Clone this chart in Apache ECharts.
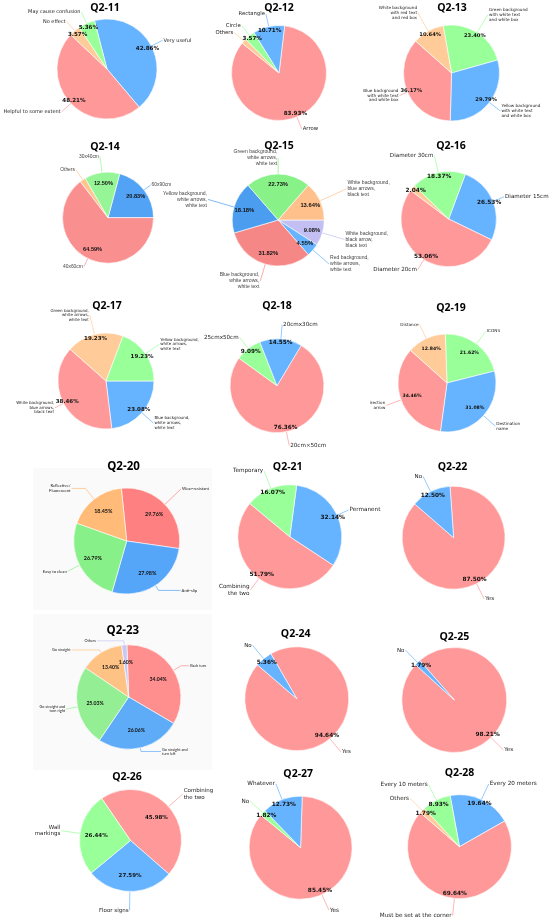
<!DOCTYPE html>
<html>
<head>
<meta charset="utf-8">
<script src="https://cdn.jsdelivr.net/npm/echarts@6/dist/echarts.min.js"></script>
<style>
html, body { margin: 0; padding: 0; background: #fff; }
#main { width: 550px; height: 919px; }
</style>
</head>
<body>
<div id="main"></div>
<script>
// 每个问题的类别和百分比
var q11Names = ['Very useful', 'Helpful to some extent', 'No effect', 'May cause confusion'];
var q11Values = [42.86, 48.21, 3.57, 5.36];
var q12Names = ['Arrow', 'Others', 'Circle', 'Rectangle'];
var q12Values = [83.93, 1.79, 3.57, 10.71];
var q13Names = ['Green background\nwith white text\nand white box', 'Yellow background\nwith white text\nand white box',
    'Blue background\nwith white text\nand white box', 'White background\nwith red text\nand red box'];
var q13Values = [23.40, 29.79, 36.17, 10.64];
var q14Names = ['60x90cm', '40x60cm', 'Others', '30x40cm'];
var q14Values = [20.83, 64.59, 2.08, 12.50];
var q15Names = ['White background,\nblack arrow,\nblack text', 'Red background,\nwhite arrows,\nwhite text',
    'Blue background,\nwhite arrows,\nwhite text', 'Yellow background,\nwhite arrows,\nwhite text',
    'Green background,\nwhite arrows,\nwhite text', 'White background,\nblue arrows,\nblack text'];
var q15Values = [9.08, 4.55, 31.82, 18.18, 22.73, 13.64];
var q16Names = ['Diameter 15cm', 'Diameter 20cm', 'Others', 'Diameter 30cm'];
var q16Values = [26.53, 53.06, 2.04, 18.37];
var q17Names = ['Blue background,\nwhite arrows,\nwhite text', 'White background,\nblue arrows,\nblack text',
    'Green background,\nwhite arrows,\nwhite text', 'Yellow background,\nwhite arrows,\nwhite text'];
var q17Values = [23.08, 38.46, 19.23, 19.23];
var q18Names = ['20cm×50cm', '25cmx50cm', '20cmx30cm'];
var q18Values = [76.36, 9.09, 14.55];
var q19Names = ['ICONS', 'Destination\nname', 'irection\narrow', 'Distance'];
var q19Values = [21.62, 31.08, 34.46, 12.84];
var q20Names = ['Wear-resistant', 'Anti-slip', 'Easy to clean', 'Reflective/\nFluorescent'];
var q20Values = [29.76, 27.98, 26.79, 18.45];
var q21Names = ['Permanent', 'Combining\nthe two', 'Temporary'];
var q21Values = [32.14, 51.79, 16.07];
var q22Names = ['Yes', 'No'];
var q22Values = [87.50, 12.50];
var q23Names = ['Back turn', 'Go straight and\nturn left', 'Go straight and\nturn right', 'Go straight', 'Others'];
var q23Values = [34.04, 26.06, 25.03, 13.40, 1.60];
var q24Names = ['Yes', 'No'];
var q24Values = [94.64, 5.36];
var q25Names = ['Yes', 'No'];
var q25Values = [98.21, 1.79];
var q26Names = ['Combining\nthe two', 'Floor signs', 'Wall\nmarkings'];
var q26Values = [45.98, 27.59, 26.44];
var q27Names = ['Yes', 'No', 'Whatever'];
var q27Values = [85.45, 1.82, 12.73];
var q28Names = ['Every 20 meters', 'Must be set at the corner', 'Others', 'Every 10 meters'];
var q28Values = [19.64, 69.64, 1.79, 8.93];

// 颜色
var RED = '#ff9999', BLUE = '#66b3ff', GREEN = '#99ff99', ORANGE = '#ffcc99', LAV = '#c2c2f0';

// 每个饼图的位置和样式 (cx, cy, r 像素; start 起始角度; ld / lds 标签距离; l2s 水平引线; pd 百分比距离)
var charts = [
    {t: 'Q2-11', n: q11Names, v: q11Values, cx: 107, cy: 69, r: 50, start: 104.5, ld: 1.25, pd: 0.85, tx: 105, ty: 8,
        colors: [BLUE, RED, ORANGE, GREEN], ff: 'DejaVu Sans', fs: 5, pfs: 5.6},
    {t: 'Q2-12', n: q12Names, v: q12Values, cx: 279, cy: 73, r: 47.5, start: 83.2, ld: 1.27, pd: 0.85, tx: 279, ty: 8,
        colors: [RED, ORANGE, GREEN, BLUE], ff: 'DejaVu Sans', fs: 5.3, pfs: 5.6},
    {t: 'Q2-13', n: q13Names, v: q13Values, cx: 451.5, cy: 73, r: 48, start: 100, lds: [1.43, 1.29, 1.18, 1.43], pd: 0.85, tx: 452, ty: 8.5,
        colors: [GREEN, BLUE, RED, ORANGE], ff: 'DejaVu Sans', fs: 4.2, pfs: 5.2},
    {t: 'Q2-14', n: q14Names, v: q14Values, cx: 108, cy: 217.7, r: 45.5, start: 75, lds: [1.18, 1.2, 1.27, 1.36], pd: 0.7, tx: 105, ty: 147,
        colors: ['#52a3f5', '#fa8f8f', '#ffc58f', '#96f596'], ff: 'Liberation Sans', fs: 4.9, pfs: 5.6, lc: '#444', pff: 'Liberation Sans'},
    {t: 'Q2-15', n: q15Names, v: q15Values, cx: 278.2, cy: 220, r: 46, start: 0, lds: [1.5, 1.46, 1.38, 1.59, 1.35, 1.63], pd: 0.7, tx: 279, ty: 146.5,
        colors: ['#c3bff2', '#66b3ff', '#f58787', '#4b9df0', '#88f288', '#ffc08c'], ff: 'Liberation Sans', fs: 5.1, pfs: 5.8, lc: '#444', pff: 'Liberation Sans'},
    {t: 'Q2-16', n: q16Names, v: q16Values, cx: 448.7, cy: 219, r: 47.7, start: 69.6, lds: [1.25, 1.24, 1.31, 1.37], pd: 0.85, tx: 451, ty: 146,
        colors: [BLUE, RED, ORANGE, GREEN], ff: 'DejaVu Sans', fs: 5.6, pfs: 5.8},
    {t: 'Q2-17', n: q17Names, v: q17Values, cx: 106, cy: 381, r: 48, start: 0, lds: [1.32, 1.2, 1.41, 1.35], pd: 0.85, tx: 107, ty: 306,
        colors: [BLUE, RED, ORANGE, GREEN], ff: 'DejaVu Sans', fs: 4, pfs: 5.5},
    {t: 'Q2-18', n: q18Names, v: q18Values, cx: 277, cy: 385.7, r: 47, start: 59, ld: 1.3, pd: 0.85, tx: 277, ty: 306,
        colors: [RED, GREEN, BLUE], ff: 'DejaVu Sans', fs: 5.6, pfs: 5.7},
    {t: 'Q2-19', n: q19Names, v: q19Values, cx: 447, cy: 383, r: 49, start: 92, ld: 1.32, pd: 0.7, tx: 451, ty: 308,
        colors: [GREEN, BLUE, RED, ORANGE], ff: 'DejaVu Sans', fs: 4.2, pfs: 4.6},
    {t: 'Q2-20', n: q20Names, v: q20Values, cx: 126.7, cy: 541, r: 53, start: 95.8, lds: [1.42, 1.11, 1.25, 1.26], l2s: [0, 22, 0, 14], pd: 0.66, tx: 123.5, ty: 466.7,
        colors: ['#ff8080', '#55a5f8', '#88f088', '#ffbb77'], ff: 'Lato', fs: 4.2, pfs: 5.4, pff: 'Lato', tfs: 11.5},
    {t: 'Q2-21', n: q21Names, v: q21Values, cx: 289.8, cy: 536.8, r: 52, start: 82.4, lds: [1.24, 1.27, 1.36], pd: 0.85, tx: 287.7, ty: 467,
        colors: [BLUE, RED, GREEN], ff: 'DejaVu Sans', fs: 5.7, pfs: 5.9},
    {t: 'Q2-22', n: q22Names, v: q22Values, cx: 453.6, cy: 537.7, r: 51.5, start: 94, ld: 1.33, pd: 0.85, tx: 452.5, ty: 467,
        colors: [RED, BLUE], ff: 'DejaVu Sans', fs: 5.5, pfs: 5.8},
    {t: 'Q2-23', n: q23Names, v: q23Values, cx: 128.7, cy: 697, r: 52.2, start: 92, lds: [1.17, 1.07, 1.22, 1.06, 1.08], l2s: [8, 20, 0, 28, 27], pd: 0.6, tx: 122.8, ty: 630.7,
        colors: ['#ff8f8f', '#5eacf8', '#94ee94', '#ffc285', '#c8c8f5'], ff: 'Lato', fs: 3.8, pfs: 5.1, pff: 'Lato', tfs: 11.5},
    {t: 'Q2-24', n: q24Names, v: q24Values, cx: 296.8, cy: 698.7, r: 52, start: 120, ld: 1.33, pd: 0.85, tx: 295.7, ty: 634,
        colors: [RED, BLUE], ff: 'DejaVu Sans', fs: 5.5, pfs: 5.8},
    {t: 'Q2-25', n: q25Names, v: q25Values, cx: 454.3, cy: 700, r: 52.5, start: 131.2, ld: 1.33, pd: 0.85, tx: 454.3, ty: 637.3,
        colors: [RED, BLUE], ff: 'DejaVu Sans', fs: 5.5, pfs: 5.8},
    {t: 'Q2-26', n: q26Names, v: q26Values, cx: 130.5, cy: 840.5, r: 51, start: 124.4, ld: 1.37, pd: 0.62, tx: 127, ty: 777.5,
        colors: [RED, BLUE, GREEN], ff: 'DejaVu Sans', fs: 5.5, pfs: 5.5},
    {t: 'Q2-27', n: q27Names, v: q27Values, cx: 300.6, cy: 847.7, r: 51.5, start: 88.2, ld: 1.33, pd: 0.85, tx: 298.2, ty: 774.3,
        colors: [RED, GREEN, BLUE], ff: 'DejaVu Sans', fs: 5.7, pfs: 5.8},
    {t: 'Q2-28', n: q28Names, v: q28Values, cx: 459.5, cy: 846.7, r: 52, start: 100.4, ld: 1.33, pd: 0.85, tx: 459.5, ty: 773.3,
        colors: [BLUE, RED, ORANGE, GREEN], ff: 'DejaVu Sans', fs: 5.7, pfs: 5.8}
];

var series = [];
var graphics = [
    // Q2-20 / Q2-23 的浅灰底
    {type: 'rect', z: -10, shape: {x: 33, y: 468, width: 179, height: 142}, style: {fill: '#fafafa'}},
    {type: 'rect', z: -10, shape: {x: 33, y: 614, width: 179, height: 156}, style: {fill: '#fafafa'}}
];

charts.forEach(function (c) {
    var data = [], pctData = [];
    for (var i = 0; i < c.n.length; i++) {
        var ld = c.lds ? c.lds[i] : c.ld;
        data.push({
            name: c.n[i], value: c.v[i],
            itemStyle: {color: c.colors[i]},
            labelLine: {length: (ld - 1) * c.r, length2: c.l2s ? c.l2s[i] : 0}
        });
        pctData.push({name: c.n[i], value: c.v[i], itemStyle: {color: 'rgba(0,0,0,0)'}});
    }
    var tfs = c.tfs || 10.5;
    graphics.push({
        type: 'text', x: c.tx, y: c.ty, z: 10,
        style: {
            text: c.t, fill: '#000',
            font: 'bold ' + tfs + 'px "Open Sans"',
            align: 'center', verticalAlign: 'middle',
            textAlign: 'center', textVerticalAlign: 'middle'
        }
    });
    // 饼块 + 外部名称标签
    series.push({
        type: 'pie',
        center: [c.cx, c.cy],
        radius: c.r,
        startAngle: c.start,
        clockwise: true,
        avoidLabelOverlap: false,
        silent: true,
        itemStyle: {borderColor: '#fff', borderWidth: 0.6},
        label: {
            show: true,
            position: 'outside',
            formatter: '{b}',
            fontFamily: c.ff,
            fontSize: c.fs,
            lineHeight: c.fs * 1.15,
            color: c.lc || '#222',
            distanceToLabelLine: 1
        },
        labelLine: {show: true, smooth: false, lineStyle: {width: 0.7}},
        data: data
    });
    // 透明的一层, 只放百分比
    series.push({
        type: 'pie',
        center: [c.cx, c.cy],
        radius: [(2 * c.pd - 1) * c.r, c.r],
        startAngle: c.start,
        clockwise: true,
        avoidLabelOverlap: false,
        silent: true,
        itemStyle: {borderWidth: 0},
        label: {
            show: true,
            position: 'inside',
            formatter: function (p) { return p.value.toFixed(2) + '%'; },
            fontFamily: c.pff || 'DejaVu Sans',
            fontWeight: 'bold',
            fontSize: c.pfs,
            color: '#111'
        },
        labelLine: {show: false},
        data: pctData
    });
});

var myChart = echarts.init(document.getElementById('main'));
myChart.setOption({
    animation: false,
    backgroundColor: '#fff',
    graphic: graphics,
    series: series
});
</script>
</body>
</html>
